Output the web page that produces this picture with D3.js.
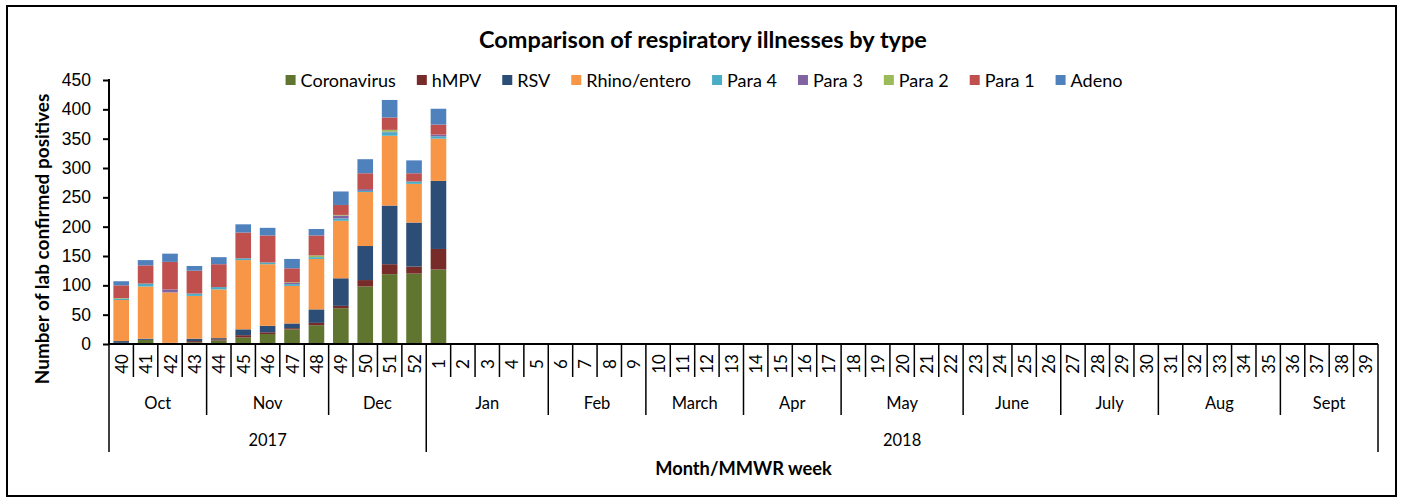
<!DOCTYPE html>
<html>
<head>
<meta charset="utf-8">
<script src="https://cdn.jsdelivr.net/npm/d3@7"></script>
<style>
  body { margin: 0; background: #fff; }
  svg { font-family: Lato, "Open Sans", sans-serif; }
</style>
</head>
<body>
<svg width="1405" height="502"></svg>
<script>
// categories: MMWR weeks, months and seasons
const weeks = ["40","41","42","43","44","45","46","47","48","49","50","51","52",
  "1","2","3","4","5","6","7","8","9","10","11","12","13","14","15","16","17","18","19",
  "20","21","22","23","24","25","26","27","28","29","30","31","32","33","34","35","36","37","38","39"];
const months = ["Oct","Nov","Dec","Jan","Feb","March","Apr","May","June","July","Aug","Sept"];
const monthWeeks = [4, 5, 4, 5, 4, 4, 4, 5, 4, 4, 5, 4];
const years = ["2017", "2018"];
const yearWeeks = [13, 39];
const yTicks = [0, 50, 100, 150, 200, 250, 300, 350, 400, 450];

// counts per week (only weeks 40 .. 1 have data so far)
const coronavirus = [1, 7, 2, 3, 6, 11, 17, 25, 32, 61, 98, 119, 120, 127];
const hmpv        = [1, 0, 0, 2, 2, 4, 3, 2, 4, 4, 11, 17, 12, 35];
const rsv         = [3, 2, 0, 4, 2, 10, 11, 8, 23, 47, 58, 100, 75, 116];
const rhino       = [70, 89, 86, 73, 83, 118, 105, 64, 86, 98, 92, 119, 66, 72];
const para4       = [2, 5, 0, 4, 4, 3, 3, 3, 3, 4, 2, 6, 4, 4];
const para3       = [0, 0, 5, 0, 0, 0, 0, 2, 0, 5, 3, 1, 0, 3];
const para2       = [1, 0, 0, 0, 0, 0, 0, 1, 3, 1, 0, 3, 0, 0];
const para1       = [22, 31, 47, 39, 39, 44, 46, 24, 34, 17, 27, 21, 14, 17];
const adeno       = [7, 9, 14, 8, 12, 14, 13, 16, 11, 23, 24, 30, 22, 27];

const seriesNames = ["Coronavirus","hMPV","RSV","Rhino/entero","Para 4","Para 3","Para 2","Para 1","Adeno"];
const seriesValues = [coronavirus, hmpv, rsv, rhino, para4, para3, para2, para1, adeno];
const colors = ["#5f7530","#772c2a","#2c4d75","#f79646","#4bacc6","#8064a2","#9bbb59","#c0504d","#4f81bd"];

const svg = d3.select("svg");

// outer frame
svg.append("rect")
  .attr("x", 7).attr("y", 6).attr("width", 1389).attr("height", 490)
  .attr("fill", "none").attr("stroke", "#000").attr("stroke-width", 2);

const plotLeft = 109, plotRight = 1378, plotTop = 80, plotBottom = 344;

const x = d3.scaleBand().domain(weeks).range([plotLeft, plotRight]).paddingInner(0.36).paddingOuter(0.18);
const y = d3.scaleLinear().domain([0, 450]).range([plotBottom, plotTop]);

const rows = coronavirus.map((d, i) => {
  const row = { week: weeks[i] };
  seriesNames.forEach((name, j) => { row[name] = seriesValues[j][i]; });
  return row;
});
const stacked = d3.stack().keys(seriesNames)(rows);

svg.append("g")
  .selectAll("g")
  .data(stacked)
  .join("g")
    .attr("fill", (d, i) => colors[i])
  .selectAll("rect")
  .data(d => d)
  .join("rect")
    .attr("x", d => x(d.data.week))
    .attr("y", d => y(d[1]))
    .attr("width", x.bandwidth())
    .attr("height", d => y(d[0]) - y(d[1]));

// y axis
const yAxis = svg.append("g")
  .attr("transform", `translate(${plotLeft},0)`)
  .call(d3.axisLeft(y).tickValues(yTicks).tickSize(6).tickPadding(12));
yAxis.select(".domain").attr("stroke-width", 2).attr("d", `M0,${plotTop - 1}V${plotBottom}`);
yAxis.selectAll(".tick line").attr("stroke-width", 2);
yAxis.selectAll("text").attr("font-size", 17.5).attr("fill", "#000");

// x axis line
svg.append("line")
  .attr("x1", plotLeft).attr("x2", plotRight).attr("y1", plotBottom).attr("y2", plotBottom)
  .attr("stroke", "#000").attr("stroke-width", 2);

// multi level category axis: separators
const step = x.step();
const monthEnds = d3.cumsum(monthWeeks);
const yearEnds = d3.cumsum(yearWeeks);
d3.range(0, weeks.length + 1).forEach(i => {
  let y2 = 377;
  if (i === 0 || yearEnds.includes(i)) y2 = 452;
  else if (monthEnds.includes(i)) y2 = 415;
  svg.append("line")
    .attr("x1", plotLeft + i * step).attr("x2", plotLeft + i * step)
    .attr("y1", plotBottom).attr("y2", y2)
    .attr("stroke", "#000").attr("stroke-width", 1.5);
});

// week labels
svg.append("g").selectAll("text")
  .data(weeks)
  .join("text")
    .attr("transform", d => `translate(${x(d) + x.bandwidth() / 2},364) rotate(-90)`)
    .attr("text-anchor", "middle")
    .attr("dominant-baseline", "central")
    .attr("font-size", 17)
    .text(d => d);

// month labels
const monthStarts = [0, ...monthEnds.slice(0, -1)];
svg.append("g").selectAll("text")
  .data(months)
  .join("text")
    .attr("x", (d, i) => plotLeft + (monthStarts[i] + monthWeeks[i] / 2) * step)
    .attr("y", 409)
    .attr("text-anchor", "middle")
    .attr("font-size", 16.5)
    .text(d => d);

// year labels
const yearStarts = [0, yearEnds[0]];
svg.append("g").selectAll("text")
  .data(years)
  .join("text")
    .attr("x", (d, i) => plotLeft + (yearStarts[i] + yearWeeks[i] / 2) * step)
    .attr("y", 446)
    .attr("text-anchor", "middle")
    .attr("font-size", 16.5)
    .text(d => d);

// titles
svg.append("text")
  .attr("x", 703).attr("y", 48)
  .attr("text-anchor", "middle")
  .attr("font-size", 23.5).attr("font-weight", "bold")
  .text("Comparison of respiratory illnesses by type");

svg.append("text")
  .attr("x", (plotLeft + plotRight) / 2).attr("y", 475)
  .attr("text-anchor", "middle")
  .attr("font-size", 18.3).attr("font-weight", "bold")
  .text("Month/MMWR week");

svg.append("text")
  .attr("transform", "translate(49,239) rotate(-90)")
  .attr("text-anchor", "middle")
  .attr("font-size", 19).attr("font-weight", "bold")
  .text("Number of lab confirmed positives");

// legend
const legend = svg.append("g");
let lx = 0;
seriesNames.forEach((name, i) => {
  const item = legend.append("g").attr("transform", `translate(${lx},0)`);
  item.append("rect")
    .attr("x", 0).attr("y", 75).attr("width", 10).attr("height", 10)
    .attr("fill", colors[i]);
  const t = item.append("text")
    .attr("x", 15).attr("y", 86.5)
    .attr("font-size", 18)
    .text(name);
  lx += 15 + t.node().getComputedTextLength() + 21;
});
const legendWidth = lx - 21;
legend.attr("transform", `translate(${704 - legendWidth / 2},0)`);
</script>
</body>
</html>
